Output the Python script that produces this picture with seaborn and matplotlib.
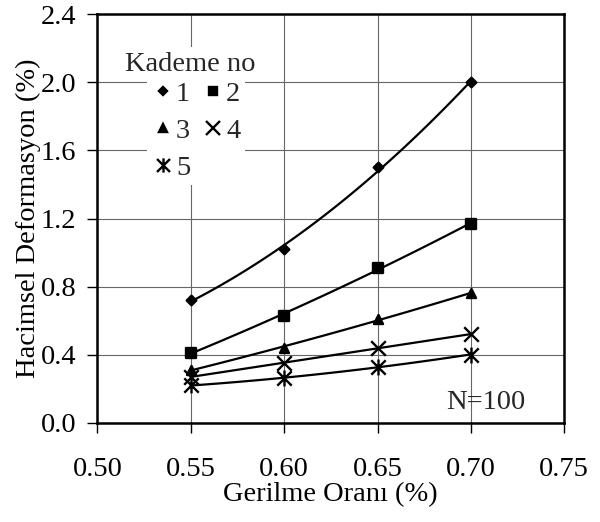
import numpy as np
import pandas as pd
import matplotlib
matplotlib.use("Agg")
import matplotlib.pyplot as plt
from matplotlib.path import Path
from matplotlib.lines import Line2D
import seaborn as sns

# data
gerilme = [0.55, 0.60, 0.65, 0.70]
kademe_1 = [0.72, 1.02, 1.50, 2.00]
kademe_2 = [0.41, 0.63, 0.91, 1.17]
kademe_3 = [0.31, 0.44, 0.61, 0.76]
kademe_4 = [0.27, 0.35, 0.44, 0.52]
kademe_5 = [0.22, 0.26, 0.33, 0.40]
labels = ["1", "2", "3", "4", "5"]

x_ticks = [0.50, 0.55, 0.60, 0.65, 0.70, 0.75]
y_ticks = [0.0, 0.4, 0.8, 1.2, 1.6, 2.0, 2.4]

# excel style asterisk: x plus vertical bar
asterisk = Path([(-1, -1), (1, 1), (-1, 1), (1, -1), (0, -1.1), (0, 1.1)],
                [Path.MOVETO, Path.LINETO, Path.MOVETO, Path.LINETO, Path.MOVETO, Path.LINETO])

markers = ["D", "s", "^", "x", asterisk]
sizes = [24, 42, 42, 110, 130]
FS = 20.5

sns.set_theme(style="white")
plt.rcParams["font.family"] = ["Liberation Serif", "DejaVu Serif"]

fig = plt.figure(figsize=(6, 5.22), dpi=100)
ax = fig.add_axes([0.1622, 0.1902, 0.7783, 0.7824])

series = [kademe_1, kademe_2, kademe_3, kademe_4, kademe_5]
for vals, m, s in zip(series, markers, sizes):
    df = pd.DataFrame({"x": gerilme, "y": vals})
    sns.regplot(data=df, x="x", y="y", order=2, ci=None, truncate=True, ax=ax,
                marker=m, color="black",
                scatter_kws={"s": s, "linewidths": 1.7, "alpha": 1, "zorder": 4},
                line_kws={"lw": 1.6, "zorder": 3})

ax.set_xlim(0.50, 0.75)
ax.set_ylim(0, 2.4)
ax.set_xticks(x_ticks)
ax.set_yticks(y_ticks)
ax.set_xticklabels([f"{t:.2f}" for t in x_ticks])
ax.set_yticklabels([f"{t:.1f}" for t in y_ticks])
ax.tick_params(axis="both", direction="out", length=7, width=1, color="black",
               labelsize=FS, labelcolor="black", bottom=True, left=True)
ax.tick_params(axis="x", pad=18)
ax.tick_params(axis="y", pad=8)
ax.grid(True, color="#666666", lw=0.8)
ax.set_axisbelow(True)
for sp in ax.spines.values():
    sp.set_color("black")
    sp.set_linewidth(1.8)

ax.set_xlabel("Gerilme Oranı (%)", fontsize=FS, color="black", labelpad=0)
ax.set_ylabel("Hacimsel Deformasyon (%)", fontsize=FS, color="black", labelpad=0)

ax.text(0.7077, 0.08, "N=100", fontsize=FS, ha="center", va="baseline")

# legend title drawn on its own white patch
ax.text(0.5496, 2.069, "Kademe no", fontsize=FS, ha="center", va="baseline",
        bbox=dict(facecolor="white", edgecolor="none", pad=3), zorder=3)

# legend in row order 1 2 / 3 4 / 5
handles = []
for m, s in zip(markers, sizes):
    handles.append(Line2D([], [], ls="none", marker=m, color="black",
                          markersize=np.sqrt(s) * 0.9, markeredgewidth=1.7))
order = [0, 2, 4, 1, 3]
leg = ax.legend([handles[i] for i in order], [labels[i] for i in order],
                ncol=2, loc="upper left", bbox_to_anchor=(0.107, 0.848),
                fontsize=FS, frameon=True, facecolor="white", edgecolor="none",
                framealpha=1, fancybox=False,
                handlelength=0.8, handletextpad=0.06, columnspacing=0.4,
                labelspacing=0.39, borderpad=0.15, borderaxespad=0)
leg.get_frame().set_linewidth(0)

fig.savefig("out.png", dpi=100)
